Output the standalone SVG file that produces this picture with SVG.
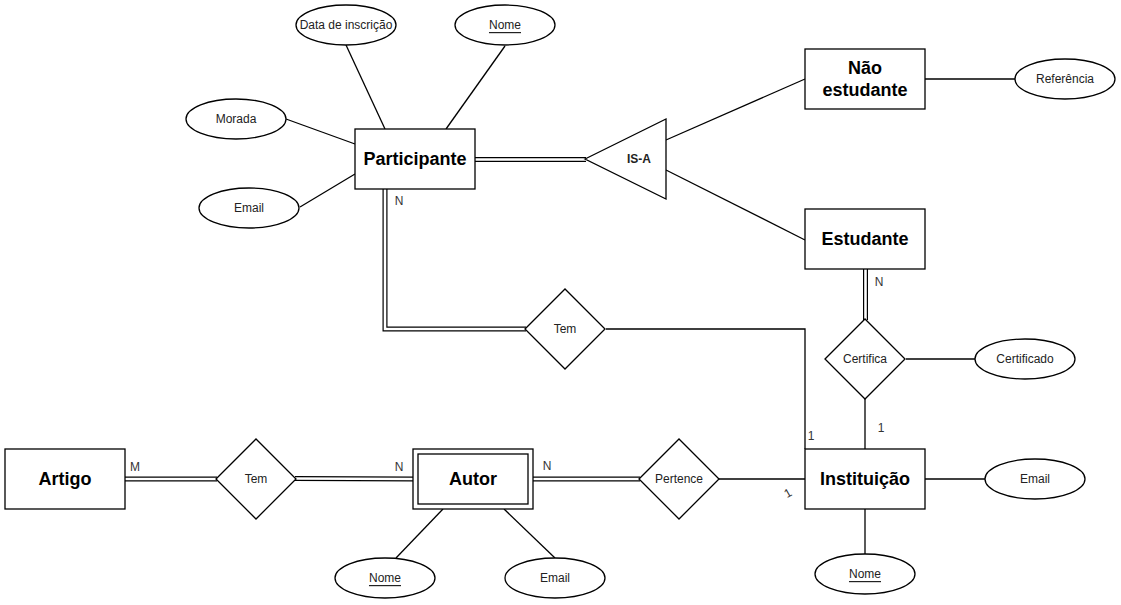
<svg xmlns="http://www.w3.org/2000/svg" width="1121" height="605" viewBox="0 0 1121 605">
<style>
.shape{fill:#fff;stroke:#000;stroke-width:1.3}
.ln{fill:none;stroke:#000;stroke-width:1.3}
.dbl{fill:none;stroke:#000;stroke-width:5}
.dblw{fill:none;stroke:#fff;stroke-width:2.6}
.ent{font-family:"Liberation Sans",Arial,sans-serif;font-size:18px;font-weight:bold;fill:#000;text-anchor:middle;dominant-baseline:central}
.att{font-family:"Liberation Sans",Arial,sans-serif;font-size:12px;fill:#222;text-anchor:middle;dominant-baseline:central}
.lbl{font-family:"Liberation Sans",Arial,sans-serif;font-size:12px;fill:#333;text-anchor:middle;dominant-baseline:central}
.u{text-decoration:underline}
</style>
<rect width="1121" height="605" fill="#fff"/>
<g id="connectors">
  <line class="ln" x1="346" y1="45" x2="385" y2="129"/>
  <line class="ln" x1="505" y1="46" x2="446" y2="129"/>
  <line class="ln" x1="286" y1="119" x2="355" y2="144"/>
  <line class="ln" x1="300" y1="207" x2="355" y2="174"/>
  <line class="ln" x1="666" y1="140" x2="805" y2="79"/>
  <line class="ln" x1="666" y1="170" x2="805" y2="240"/>
  <line class="ln" x1="925" y1="79" x2="1015" y2="79"/>
  <polyline class="ln" points="606,329 805,329 805,449"/>
  <line class="ln" x1="906" y1="359" x2="975" y2="359"/>
  <line class="ln" x1="865" y1="399" x2="865" y2="449"/>
  <line class="ln" x1="925" y1="479" x2="985" y2="479"/>
  <line class="ln" x1="865" y1="509" x2="865" y2="554"/>
  <line class="ln" x1="719" y1="479" x2="805" y2="479"/>
  <line class="ln" x1="443" y1="509" x2="396" y2="558"/>
  <line class="ln" x1="504" y1="509" x2="555" y2="558"/>
  <g>
    <line class="dbl" x1="475" y1="159.5" x2="586" y2="159.5"/>
    <line class="dblw" x1="474" y1="159.5" x2="587" y2="159.5"/>
    <polyline class="dbl" points="385,189 385,329 526,329"/>
    <polyline class="dblw" points="385,188 385,329 527,329"/>
    <line class="dbl" x1="865.5" y1="269" x2="865.5" y2="320"/>
    <line class="dblw" x1="865.5" y1="268" x2="865.5" y2="321"/>
    <line class="dbl" x1="125" y1="479" x2="217" y2="479"/>
    <line class="dblw" x1="124" y1="479" x2="218" y2="479"/>
    <line class="dbl" x1="295" y1="478.5" x2="413" y2="479"/>
    <line class="dblw" x1="294" y1="478.5" x2="414" y2="479"/>
    <line class="dbl" x1="533" y1="479" x2="640" y2="479"/>
    <line class="dblw" x1="532" y1="479" x2="641" y2="479"/>
  </g>
  <text class="lbl" x="399" y="201">N</text>
  <text class="lbl" x="879" y="282">N</text>
  <text class="lbl" x="881" y="428">1</text>
  <text class="lbl" x="811" y="436">1</text>
  <text class="lbl" x="135" y="467">M</text>
  <text class="lbl" x="399" y="467">N</text>
  <text class="lbl" x="547" y="466">N</text>
  <text class="lbl" x="788" y="493" font-size="10" transform="rotate(-30 788 493)">1</text>
</g>
<g id="participante">
  <rect class="shape" x="355" y="129" width="120" height="60"/>
  <text class="ent" x="415" y="159">Participante</text>
</g>
<g id="data-inscricao">
  <ellipse class="shape" cx="346" cy="25" rx="50" ry="20"/>
  <text class="att" x="346" y="25">Data de inscrição</text>
</g>
<g id="participante-nome">
  <ellipse class="shape" cx="505" cy="25" rx="50" ry="20"/>
  <text class="att u" x="505" y="25">Nome</text>
</g>
<g id="morada">
  <ellipse class="shape" cx="236" cy="119" rx="50" ry="20"/>
  <text class="att" x="236" y="119">Morada</text>
</g>
<g id="participante-email">
  <ellipse class="shape" cx="249" cy="208" rx="50" ry="20"/>
  <text class="att" x="249" y="208">Email</text>
</g>
<g id="isa">
  <polygon class="shape" points="585,159 666,119 666,199"/>
  <text class="att" x="639" y="159" font-weight="bold" fill="#000">IS-A</text>
</g>
<g id="nao-estudante">
  <rect class="shape" x="805" y="49" width="120" height="60"/>
  <text class="ent" x="865" y="68">Não</text>
  <text class="ent" x="865" y="90">estudante</text>
</g>
<g id="referencia">
  <ellipse class="shape" cx="1065" cy="79" rx="50" ry="20"/>
  <text class="att" x="1065" y="79">Referência</text>
</g>
<g id="estudante">
  <rect class="shape" x="805" y="209" width="120" height="60"/>
  <text class="ent" x="865" y="239">Estudante</text>
</g>
<g id="tem-participante">
  <polygon class="shape" points="525,329 565,289 605,329 565,369"/>
  <text class="att" x="565" y="329">Tem</text>
</g>
<g id="certifica">
  <polygon class="shape" points="825,359 865,319 905,359 865,399"/>
  <text class="att" x="865" y="359">Certifica</text>
</g>
<g id="certificado">
  <ellipse class="shape" cx="1025" cy="359" rx="50" ry="20"/>
  <text class="att" x="1025" y="359">Certificado</text>
</g>
<g id="instituicao">
  <rect class="shape" x="805" y="449" width="120" height="60"/>
  <text class="ent" x="865" y="479">Instituição</text>
</g>
<g id="instituicao-email">
  <ellipse class="shape" cx="1035" cy="479" rx="50" ry="20"/>
  <text class="att" x="1035" y="479">Email</text>
</g>
<g id="instituicao-nome">
  <ellipse class="shape" cx="865" cy="574" rx="50" ry="20"/>
  <text class="att u" x="865" y="574">Nome</text>
</g>
<g id="pertence">
  <polygon class="shape" points="639,479 679,439 719,479 679,519"/>
  <text class="att" x="679" y="479">Pertence</text>
</g>
<g id="autor">
  <rect class="shape" x="413" y="449" width="120" height="60"/>
  <rect class="shape" x="418" y="454" width="110" height="50"/>
  <text class="ent" x="473" y="479">Autor</text>
</g>
<g id="autor-nome">
  <ellipse class="shape" cx="385" cy="578" rx="50" ry="20"/>
  <text class="att u" x="385" y="578">Nome</text>
</g>
<g id="autor-email">
  <ellipse class="shape" cx="555" cy="578" rx="50" ry="20"/>
  <text class="att" x="555" y="578">Email</text>
</g>
<g id="tem-artigo">
  <polygon class="shape" points="216,479 256,439 296,479 256,519"/>
  <text class="att" x="256" y="479">Tem</text>
</g>
<g id="artigo">
  <rect class="shape" x="5" y="449" width="120" height="60"/>
  <text class="ent" x="65" y="479">Artigo</text>
</g>
</svg>
